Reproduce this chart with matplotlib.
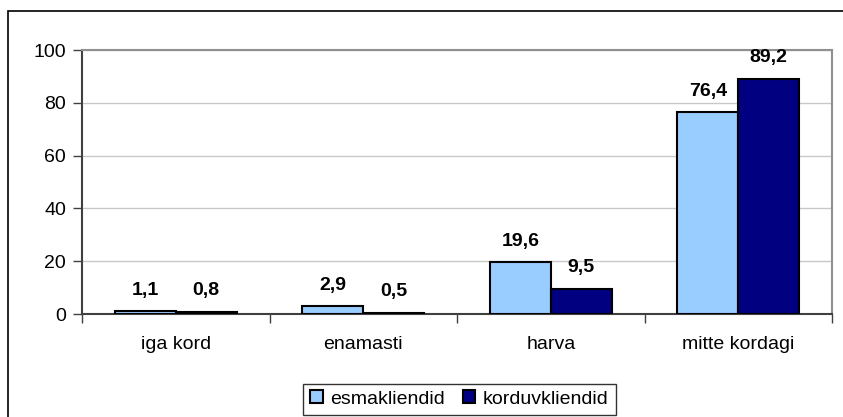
import numpy as np
import matplotlib as mpl
import matplotlib.pyplot as plt
from matplotlib.patches import Rectangle

mpl.use('Agg')
plt.rcParams['font.family'] = ['Liberation Sans', 'DejaVu Sans']

kategooriad = ["iga kord", "enamasti", "harva", "mitte kordagi"]
esmakliendid = [1.1, 2.9, 19.6, 76.4]
korduvkliendid = [0.8, 0.5, 9.5, 89.2]
sildid_esma = ["1,1", "2,9", "19,6", "76,4"]
sildid_kord = ["0,8", "0,5", "9,5", "89,2"]

fig = plt.figure(figsize=(8.43, 4.17), dpi=100)
ax = fig.add_axes([0.0973, 0.247, 0.8897, 0.633])

x = np.arange(len(kategooriad))
w = 0.325
b1 = ax.bar(x - w / 2, esmakliendid, w, color="#99CCFF", edgecolor="black",
            linewidth=1.5, label="esmakliendid", zorder=3)
b2 = ax.bar(x + w / 2, korduvkliendid, w, color="#000080", edgecolor="black",
            linewidth=1.5, label="korduvkliendid", zorder=3)

for bars, sildid in ((b1, sildid_esma), (b2, sildid_kord)):
    for r, s in zip(bars, sildid):
        ax.annotate(s, (r.get_x() + r.get_width() / 2, r.get_height()),
                    xytext=(0, 9), textcoords="offset points", ha="center",
                    va="bottom", fontsize=14, fontweight="bold", clip_on=False)

ax.set_xlim(-0.5, len(kategooriad) - 0.5)
ax.set_ylim(0, 100)
ax.set_yticks(range(0, 101, 20))
ax.set_xticks(x)
ax.set_xticklabels(kategooriad)
ax.set_xticks(np.arange(-0.5, len(kategooriad)), minor=True)
ax.tick_params(axis="x", which="major", length=0, pad=16, labelsize=14)
ax.tick_params(axis="x", which="minor", length=6.5, width=1, color="#404040")
ax.tick_params(axis="y", length=6.5, width=1, color="#404040", labelsize=14, pad=5)
ax.yaxis.grid(True, color="#C8C8C8", linewidth=1, zorder=0)
ax.set_axisbelow(True)

for s in ("left", "bottom"):
    ax.spines[s].set_color("#404040")
    ax.spines[s].set_linewidth(1.5)
for s in ("top", "right"):
    ax.spines[s].set_color("#909090")
    ax.spines[s].set_linewidth(1.5)

leg = fig.legend(loc="center", bbox_to_anchor=(0.545, 0.043), ncol=2,
                 fontsize=14, frameon=True, fancybox=False,
                 handlelength=0.65, handleheight=0.65, handletextpad=0.4,
                 columnspacing=0.9, borderpad=0.35, edgecolor="black")
leg.get_frame().set_linewidth(1)
for h in leg.legend_handles:
    h.set_linewidth(1.5)

# raam ümber kogu joonise
fig.patches.append(Rectangle((8 / 843, -0.1), 1.2, 1 - 11 / 417 + 0.1,
                             transform=fig.transFigure, fill=False,
                             edgecolor="black", linewidth=1.2))

plt.savefig("out.png", dpi=100)
